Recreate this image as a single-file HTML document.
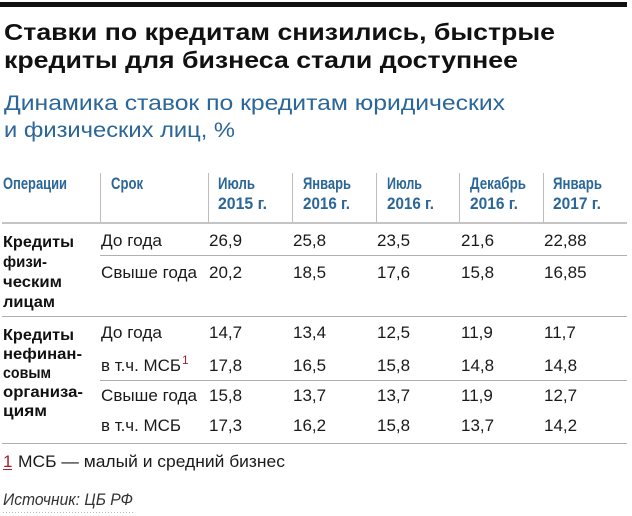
<!DOCTYPE html>
<html>
<head>
<meta charset="utf-8">
<style>
  html, body { margin: 0; padding: 0; background: #ffffff; }
  body { width: 632px; height: 516px; overflow: hidden; }
  svg { display: block; }
  .t { font-family: "Liberation Sans", "Noto Sans CJK JP", sans-serif; }
</style>
</head>
<body>
<svg width="632" height="516" viewBox="0 0 632 516" xmlns="http://www.w3.org/2000/svg">
  <rect x="0" y="0" width="632" height="516" fill="#ffffff"/>
  <!-- top black bar -->
  <rect x="0" y="2" width="627" height="5" fill="#111111"/>

  <!-- Title -->
  <g class="t" font-weight="bold" font-size="23" fill="#111111">
    <text x="4" y="40" textLength="551" lengthAdjust="spacingAndGlyphs">Ставки по кредитам снизились, быстрые</text>
    <text x="4" y="68" textLength="514" lengthAdjust="spacingAndGlyphs">кредиты для бизнеса стали доступнее</text>
  </g>

  <!-- Subtitle -->
  <g class="t" font-size="21" fill="#2b6699">
    <text x="4" y="110" textLength="501" lengthAdjust="spacingAndGlyphs">Динамика ставок по кредитам юридических</text>
    <text x="4" y="137" textLength="231" lengthAdjust="spacingAndGlyphs">и физических лиц, %</text>
  </g>

  <!-- Header vertical separators -->
  <g stroke="#bdbdbd" stroke-width="1">
    <line x1="100.5" y1="173" x2="100.5" y2="222"/>
    <line x1="208.5" y1="173" x2="208.5" y2="222"/>
    <line x1="292.5" y1="173" x2="292.5" y2="222"/>
    <line x1="376.5" y1="173" x2="376.5" y2="222"/>
    <line x1="459.5" y1="173" x2="459.5" y2="222"/>
    <line x1="543.5" y1="173" x2="543.5" y2="222"/>
  </g>

  <!-- Header text -->
  <g class="t" font-weight="bold" font-size="17" fill="#2b6699">
    <text x="3" y="189" textLength="64" lengthAdjust="spacingAndGlyphs">Операции</text>
    <text x="111" y="189" textLength="32" lengthAdjust="spacingAndGlyphs">Срок</text>
    <text x="218" y="189" textLength="37" lengthAdjust="spacingAndGlyphs">Июль</text>
    <text x="218" y="209" textLength="49" lengthAdjust="spacingAndGlyphs">2015 г.</text>
    <text x="303" y="189" textLength="48" lengthAdjust="spacingAndGlyphs">Январь</text>
    <text x="303" y="209" textLength="47" lengthAdjust="spacingAndGlyphs">2016 г.</text>
    <text x="387" y="189" textLength="35" lengthAdjust="spacingAndGlyphs">Июль</text>
    <text x="387" y="209" textLength="47" lengthAdjust="spacingAndGlyphs">2016 г.</text>
    <text x="470" y="189" textLength="56" lengthAdjust="spacingAndGlyphs">Декабрь</text>
    <text x="470" y="209" textLength="48" lengthAdjust="spacingAndGlyphs">2016 г.</text>
    <text x="553" y="189" textLength="49" lengthAdjust="spacingAndGlyphs">Январь</text>
    <text x="553" y="209" textLength="48" lengthAdjust="spacingAndGlyphs">2017 г.</text>
  </g>

  <!-- Horizontal rules -->
  <rect x="2" y="222" width="625" height="2" fill="#c4c4c4"/>
  <rect x="100" y="255" width="527" height="1" fill="#b0b0b0"/>
  <rect x="2" y="316" width="625" height="1" fill="#b0b0b0"/>
  <rect x="100" y="380" width="527" height="1" fill="#b0b0b0"/>
  <rect x="2" y="443" width="625" height="1" fill="#b0b0b0"/>

  <!-- First column (bold) -->
  <g class="t" font-weight="bold" font-size="16" fill="#111111">
    <text x="3" y="247" textLength="71" lengthAdjust="spacingAndGlyphs">Кредиты</text>
    <text x="3" y="267" textLength="44" lengthAdjust="spacingAndGlyphs">физи-</text>
    <text x="3" y="287" textLength="59" lengthAdjust="spacingAndGlyphs">ческим</text>
    <text x="3" y="307" textLength="52" lengthAdjust="spacingAndGlyphs">лицам</text>

    <text x="3" y="340" textLength="71" lengthAdjust="spacingAndGlyphs">Кредиты</text>
    <text x="3" y="359" textLength="79" lengthAdjust="spacingAndGlyphs">нефинан-</text>
    <text x="3" y="378" textLength="48" lengthAdjust="spacingAndGlyphs">совым</text>
    <text x="3" y="397" textLength="80" lengthAdjust="spacingAndGlyphs">организа-</text>
    <text x="3" y="416" textLength="44" lengthAdjust="spacingAndGlyphs">циям</text>
  </g>

  <!-- Term column -->
  <g class="t" font-size="17" fill="#1a1a1a">
    <text x="101" y="246" textLength="61" lengthAdjust="spacingAndGlyphs">До года</text>
    <text x="101" y="278" textLength="96" lengthAdjust="spacingAndGlyphs">Свыше года</text>
    <text x="101" y="338" textLength="61" lengthAdjust="spacingAndGlyphs">До года</text>
    <text x="101" y="371" textLength="80" lengthAdjust="spacingAndGlyphs">в т.ч. МСБ</text>
    <text x="101" y="401" textLength="96" lengthAdjust="spacingAndGlyphs">Свыше года</text>
    <text x="101" y="431" textLength="80" lengthAdjust="spacingAndGlyphs">в т.ч. МСБ</text>
  </g>
  <text class="t" x="182" y="364" font-size="12" fill="#a3202e">1</text>

  <!-- Data values -->
  <g class="t" font-size="17" fill="#1a1a1a">
    <!-- row 1 -->
    <text x="209" y="246">26,9</text>
    <text x="293" y="246">25,8</text>
    <text x="377" y="246">23,5</text>
    <text x="461" y="246">21,6</text>
    <text x="544" y="246">22,88</text>
    <!-- row 2 -->
    <text x="209" y="278">20,2</text>
    <text x="293" y="278">18,5</text>
    <text x="377" y="278">17,6</text>
    <text x="461" y="278">15,8</text>
    <text x="544" y="278">16,85</text>
    <!-- row 3 -->
    <text x="209" y="338">14,7</text>
    <text x="293" y="338">13,4</text>
    <text x="377" y="338">12,5</text>
    <text x="461" y="338">11,9</text>
    <text x="544" y="338">11,7</text>
    <!-- row 4 -->
    <text x="209" y="371">17,8</text>
    <text x="293" y="371">16,5</text>
    <text x="377" y="371">15,8</text>
    <text x="461" y="371">14,8</text>
    <text x="544" y="371">14,8</text>
    <!-- row 5 -->
    <text x="209" y="401">15,8</text>
    <text x="293" y="401">13,7</text>
    <text x="377" y="401">13,7</text>
    <text x="461" y="401">11,9</text>
    <text x="544" y="401">12,7</text>
    <!-- row 6 -->
    <text x="209" y="431">17,3</text>
    <text x="293" y="431">16,2</text>
    <text x="377" y="431">15,8</text>
    <text x="461" y="431">13,7</text>
    <text x="544" y="431">14,2</text>
  </g>

  <!-- Footnote -->
  <text class="t" x="3" y="467" font-size="17" fill="#a3202e">1</text>
  <rect x="3" y="469" width="9" height="1" fill="#a3202e"/>
  <text class="t" x="18" y="467" font-size="17" fill="#1a1a1a" textLength="267" lengthAdjust="spacingAndGlyphs">МСБ — малый и средний бизнес</text>

  <!-- Source -->
  <text class="t" x="3" y="505" font-size="17" font-style="italic" fill="#333333" textLength="130" lengthAdjust="spacingAndGlyphs">Источник: ЦБ РФ</text>
  <line x1="3" y1="512.5" x2="135" y2="512.5" stroke="#b8b8b8" stroke-width="1" stroke-dasharray="1,2"/>
</svg>
</body>
</html>
